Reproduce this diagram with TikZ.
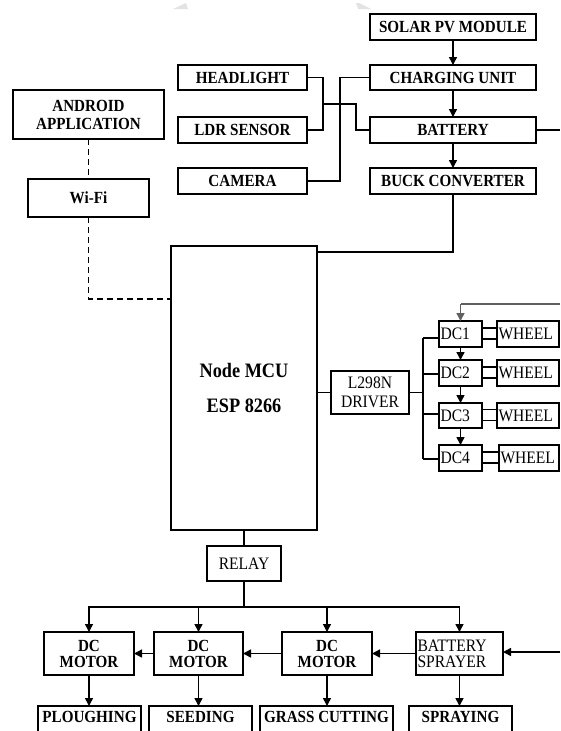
\documentclass[tikz,border=0pt]{standalone}
\usepackage{fontspec}
\setmainfont{Liberation Serif}[FakeStretch=0.89]
\usetikzlibrary{arrows.meta}
\tikzset{
  box/.style={draw, line width=1.6pt, inner sep=0pt, outer sep=0pt, align=center,
    font=\bfseries\fontsize{17}{18}\selectfont},
  rbox/.style={box, font=\fontsize{17.5}{19}\selectfont},
  lbox/.style={draw, line width=1.6pt, inner xsep=1.5pt, inner ysep=0pt, outer sep=0pt,
    align=left, font=\fontsize{17.5}{19}\selectfont},
  ln/.style={line width=1.5pt},
  arr/.style={ln, -{Triangle[length=8pt,width=8pt]}},
  dsh/.style={line width=1.7pt, dash pattern=on 6pt off 4pt},
}
\begin{document}
\begin{tikzpicture}[x=1pt,y=-1pt]
\useasboundingbox (0,0) rectangle (560,731);
\clip (0,0) rectangle (560,731);
% faint watermark wedges
\fill[gray!22] (173,9) -- (186,3) -- (188,9) -- cycle;
\fill[gray!22] (356,3) -- (359,3) -- (371,9) -- (358,9) -- cycle;
% power chain
\node[box, minimum width=166, minimum height=26] (solar)  at (453,27)   {SOLAR PV MODULE};
\node[box, minimum width=166, minimum height=25] (charge) at (453,77.5) {CHARGING UNIT};
\node[box, minimum width=166, minimum height=26] (batt)   at (453,130)  {BATTERY};
\node[box, minimum width=166, minimum height=26] (buck)   at (453,181)  {BUCK CONVERTER};
% sensors
\node[box, minimum width=129, minimum height=25] (head) at (242.5,77.5) {HEADLIGHT};
\node[box, minimum width=129, minimum height=26] (ldr)  at (242.5,130)  {LDR SENSOR};
\node[box, minimum width=129, minimum height=26] (cam)  at (242.5,181)  {CAMERA};
% android / wifi
\node[box, minimum width=151, minimum height=49] (andr) at (88.5,114.5) {ANDROID\\APPLICATION};
\node[box, minimum width=121, minimum height=38] (wifi) at (88.5,198) {Wi-Fi};
% MCU
\node[box, minimum width=146, minimum height=284, font=\bfseries\fontsize{20.5}{35}\selectfont]
  (mcu) at (244,388) {Node MCU\\ESP 8266};
\node[rbox, minimum width=78, minimum height=43] (drv) at (370,392.5) {L298N\\DRIVER};
% DC motors and wheels
\node[lbox, text width=40, minimum height=26] (dc1) at (460.5,334)   {DC1};
\node[lbox, text width=40, minimum height=26] (dc2) at (460.5,373)   {DC2};
\node[lbox, text width=40, minimum height=25] (dc3) at (460.5,415.5) {DC3};
\node[lbox, text width=40, minimum height=26] (dc4) at (460.5,458)   {DC4};
\node[lbox, text width=59, minimum height=26] (wh1) at (528,334)   {WHEEL};
\node[lbox, text width=59, minimum height=26] (wh2) at (528,373)   {WHEEL};
\node[lbox, text width=59, minimum height=25] (wh3) at (528,415.5) {WHEEL};
\node[lbox, text width=57, minimum height=26] (wh4) at (529,458)   {WHEEL};
% relay and loads
\node[rbox, minimum width=74, minimum height=35] (relay) at (244,563.5) {RELAY};
\node[box, minimum width=90, minimum height=43, font=\bfseries\fontsize{17}{16}\selectfont] (m1) at (89,653.5)  {DC\\MOTOR};
\node[box, minimum width=89, minimum height=43, font=\bfseries\fontsize{17}{16}\selectfont] (m2) at (198.5,653.5) {DC\\MOTOR};
\node[box, minimum width=90, minimum height=43, font=\bfseries\fontsize{17}{16}\selectfont] (m3) at (327,653.5) {DC\\MOTOR};
\node[lbox, text width=84, minimum height=43, font=\fontsize{17.5}{16}\selectfont] (bs) at (459.5,653.5) {BATTERY\\SPRAYER};
\node[box, anchor=north, minimum width=103, text height=16pt, text depth=30pt] (plough) at (89.5,706)  {PLOUGHING};
\node[box, anchor=north, minimum width=103, text height=16pt, text depth=30pt] (seed)   at (200.5,706) {SEEDING};
\node[box, anchor=north, minimum width=133, text height=16pt, text depth=30pt] (grass)  at (326.5,706) {GRASS CUTTING};
\node[box, anchor=north, minimum width=103, text height=16pt, text depth=30pt] (spray)  at (460.5,706) {SPRAYING};
% free-end coordinates
\coordinate (jA) at (323,104);
\coordinate (battR) at (560,130);
\coordinate (wifiE) at (171,299);
\coordinate (buckE) at (317,252);
\coordinate (dcTop) at (560,304);
\coordinate (dcBend) at (460.5,304);
\coordinate (bus) at (423,392.5);
\coordinate (rb) at (244,607);
\coordinate (bsR) at (560,652);
% power chain connectors
\draw[arr] (solar) -- (charge);
\draw[arr] (charge) -- (batt);
\draw[arr] (batt) -- (buck);
\draw[ln] (batt.east) -- (battR);
\draw[ln] (head.east) -| (323,130) -- (ldr.east);
\draw[ln] (jA) -| (356,130) -- (batt.west);
\draw[ln] (cam.east) -| (340,77.5) -- (charge.west);
\draw[ln] (buck.south) |- (buckE);
% android link
\draw[dsh] (andr.south) -- (wifi.north);
\draw[dsh] (wifi.south) |- (wifiE);
% driver
\draw[ln] (drv.west -| mcu.east) -- (drv.west);
\draw[ln] (drv.east) -- (bus);
\draw[ln] (423,338) -- (423,459);
\draw[ln] (423,338) -- (423,338 -| dc1.west);
\draw[ln] (423,374) -- (423,374 -| dc2.west);
\draw[ln] (423,414) -- (423,414 -| dc3.west);
\draw[ln] (423,459) -- (423,459 -| dc4.west);
\draw[arr] (dc1) -- (dc2);
\draw[arr] (dc2) -- (dc3);
\draw[arr] (dc3) -- (dc4);
\draw[line width=2pt, draw=gray!75!black] (dcTop) -- (dcBend);
\draw[arr, draw=gray!75!black, fill=black] (dcBend) -- (dc1.north);
\foreach \i in {1,2,3,4}{
  \draw[ln] ([yshift=6pt]dc\i.east) -- ([yshift=6pt]dc\i.east -| wh\i.west);
  \draw[ln] ([yshift=-5pt]dc\i.east) -- ([yshift=-5pt]dc\i.east -| wh\i.west);
}
% relay
\draw[ln] (relay.north |- mcu.south) -- (relay.north);
\draw[ln] (relay.south) -- (rb);
\draw[arr] (rb) -| (m1.north);
\draw[arr] (rb) -| (m2.north);
\draw[arr] (rb) -| (m3.north);
\draw[arr] (rb) -| (bs.north);
\draw[arr] (m2.west) -- (m1.east);
\draw[arr] (m3.west) -- (m2.east);
\draw[arr] (bs.west) -- (m3.east);
\draw[arr] (bsR) -- (bsR -| bs.east);
\draw[arr] (m1.south) -- (m1.south |- plough.north);
\draw[arr] (m2.south) -- (m2.south |- seed.north);
\draw[arr] (m3.south) -- (m3.south |- grass.north);
\draw[arr] (bs.south) -- (bs.south |- spray.north);
\end{tikzpicture}
\end{document}
